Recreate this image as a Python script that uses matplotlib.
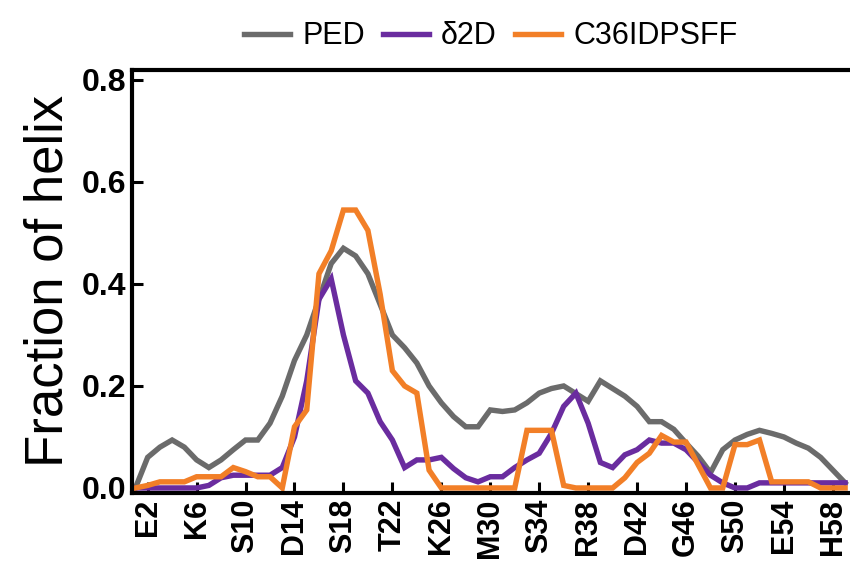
import numpy as np
import matplotlib
matplotlib.use("Agg")
import matplotlib.pyplot as plt

plt.rcParams['font.family'] = ['Liberation Sans', 'DejaVu Sans']

# residue numbers 1..59
residues = np.arange(1, 60)

ped = [0.0, 0.06, 0.08, 0.094, 0.08, 0.055, 0.04, 0.055, 0.075, 0.094,
       0.094, 0.127, 0.18, 0.25, 0.30, 0.37, 0.44, 0.47, 0.455, 0.42,
       0.36, 0.30, 0.275, 0.245, 0.20, 0.167, 0.14, 0.12, 0.12, 0.153,
       0.15, 0.153, 0.167, 0.186, 0.195, 0.20, 0.185, 0.17, 0.21, 0.195,
       0.18, 0.16, 0.13, 0.13, 0.115, 0.088, 0.062, 0.03, 0.075, 0.094,
       0.105, 0.113, 0.107, 0.10, 0.088, 0.078, 0.06, 0.035, 0.01]

d2d = [0.0, 0.0, 0.0, 0.0, 0.0, 0.0, 0.005, 0.02, 0.025, 0.025,
       0.025, 0.025, 0.04, 0.10, 0.21, 0.37, 0.41, 0.30, 0.21, 0.186,
       0.13, 0.094, 0.04, 0.055, 0.055, 0.06, 0.038, 0.02, 0.012, 0.022,
       0.022, 0.04, 0.055, 0.068, 0.107, 0.16, 0.186, 0.127, 0.05, 0.04,
       0.065, 0.075, 0.094, 0.088, 0.088, 0.075, 0.05, 0.025, 0.01, 0.0,
       0.0, 0.01, 0.01, 0.01, 0.01, 0.01, 0.01, 0.01, 0.01]

c36 = [0.0, 0.005, 0.012, 0.012, 0.012, 0.022, 0.022, 0.022, 0.04, 0.032,
       0.022, 0.022, 0.0, 0.12, 0.153, 0.42, 0.465, 0.545, 0.545, 0.505,
       0.38, 0.23, 0.20, 0.186, 0.035, 0.0, 0.0, 0.0, 0.0, 0.0,
       0.0, 0.0, 0.113, 0.113, 0.113, 0.005, 0.0, 0.0, 0.0, 0.0,
       0.02, 0.05, 0.068, 0.103, 0.09, 0.09, 0.045, 0.0, 0.0, 0.085,
       0.085, 0.094, 0.012, 0.012, 0.012, 0.012, 0.0, 0.0, 0.0]

tick_pos = [2, 6, 10, 14, 18, 22, 26, 30, 34, 38, 42, 46, 50, 54, 58]
tick_labels = ['E2', 'K6', 'S10', 'D14', 'S18', 'T22', 'K26', 'M30', 'S34',
               'R38', 'D42', 'G46', 'S50', 'E54', 'H58']

fig = plt.figure(figsize=(8.5, 5.72), dpi=100)
ax = fig.add_axes([0.155, 0.138, 0.845, 0.74])

lw = 3.9
ax.plot(residues, ped, color='#6b6b6b', lw=lw, label='PED', solid_joinstyle='miter')
ax.plot(residues, d2d, color='#6a2c9f', lw=lw, label='δ2D', solid_joinstyle='miter')
ax.plot(residues, c36, color='#f27f27', lw=lw, label='C36IDPSFF', solid_joinstyle='miter')

ax.set_xlim(0.7, 59.4)
ax.set_ylim(-0.01, 0.82)
ax.set_yticks([0.0, 0.2, 0.4, 0.6, 0.8])
ax.set_yticklabels(['0.0', '0.2', '0.4', '0.6', '0.8'], fontsize=23, fontweight='bold')
ax.set_xticks(tick_pos)
ax.set_xticklabels(tick_labels, rotation=90, fontsize=22, fontweight='bold')
ax.tick_params(direction='in', length=8, width=2.2, pad=4)

for side in ['left', 'bottom', 'top']:
    ax.spines[side].set_linewidth(3)
ax.spines['right'].set_visible(False)

ax.set_ylabel('Fraction of helix', fontsize=38, labelpad=6)

ax.legend(loc='lower center', bbox_to_anchor=(0.5, 1.0), ncol=3, frameon=False,
          fontsize=22, handlelength=1.5, handletextpad=0.4, columnspacing=0.6,
          borderaxespad=0.2)

fig.savefig('out.png', dpi=100)
